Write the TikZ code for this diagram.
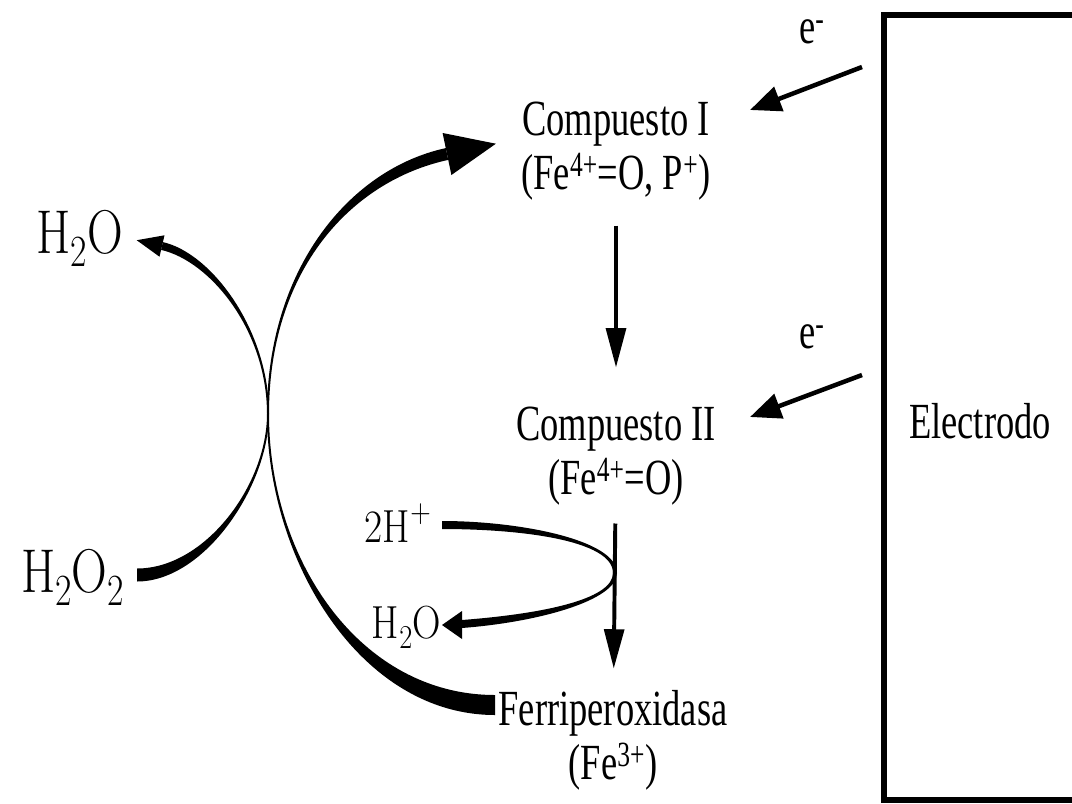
\documentclass[tikz,border=0pt]{standalone}
\usepackage{fontspec}
\usepackage{graphicx}
\newfontfamily\labfont[FakeStretch=0.72]{Liberation Serif}
\newcommand\lowr[1]{\raisebox{-0.22em}{\scalebox{0.72}{#1}}}
\newcommand\highr[1]{\raisebox{0.42em}{\scalebox{0.72}{#1}}}
\usetikzlibrary{positioning,arrows.meta}

\begin{document}
\begin{tikzpicture}[
  x=0.025cm, y=-0.025cm,
  cmp/.style={inner sep=0pt, align=center, font=\labfont\fontsize{36}{38.5}\selectfont},
  elab/.style={inner sep=0pt, anchor=base, font=\labfont\fontsize{36}{36}\selectfont},
  mol/.style={inner sep=0pt, anchor=base east, font=\fontsize{44}{44}\selectfont},
  smol/.style={mol, font=\fontsize{33}{33}\selectfont},
  flow/.style={-{Triangle[length=28pt,width=14pt]}, line width=2.8pt},
  efl/.style={-{Triangle[length=22pt,width=18pt]}, line width=3.2pt},
  taper/.style={fill=black, draw=none}
]
\useasboundingbox (0,0) rectangle (1072,803);

\node[cmp] (c1) at (616,151) {Compuesto I\\(Fe\textsuperscript{4+}=O, P\textsuperscript{+})};
\node[cmp] (c2) at (616,456) {Compuesto II\\(Fe\textsuperscript{4+}=O)};
\node[cmp] (fe) at (613,740) {Ferriperoxidasa\\(Fe\textsuperscript{3+})};
\node[elab] (e1) at (812,43) {e\textsuperscript{-}};
\node[elab] (e2) at (812,348) {e\textsuperscript{-}};
\node[cmp, anchor=base] (el) at (980,438) {Electrodo};
\node[mol] (h2o) at (123,253) {\scalebox{0.8}[1]{H\lowr{2}O}};
\node[mol] (h2o2) at (124,592) {\scalebox{0.8}[1]{H\lowr{2}O\lowr{2}}};
\node[smol] (hp) at (431,542) {\scalebox{0.85}[1]{2H\highr{+}}};
\node[smol] (h2ob) at (441,638) {\scalebox{0.85}[1]{H\lowr{2}O}};

\draw[line width=3.6pt] (884,15) rectangle (1110,800);

\coordinate (src1) at (862,67);
\coordinate (dst1) at (750,110);
\coordinate (src2) at (862,375);
\coordinate (dst2) at (750,417);
\draw[efl] (src1) -- (dst1);
\draw[efl] (src2) -- (dst2);

\draw[flow, shorten <=17.8pt, shorten >=27.7pt] (c1) -- (c2);
\draw[flow, shorten <=12.8pt, shorten >=15pt] (c2) -- (fe);

\fill[taper] (137,581.5) .. controls (205,581.5) and (269,485) .. (269,414)
  .. controls (269,330) and (211.6,253.1) .. (162.9,242.1) -- (161.1,249.9)
  .. controls (209.8,260.9) and (267,330) .. (267,414)
  .. controls (267,485) and (205,568.5) .. (137,568.5) -- cycle;
\fill[taper] (136.7,240.2) -- (164.5,235.3) -- (159.5,256.7) -- cycle;

\fill[taper] (495,715) .. controls (360,715) and (267,560) .. (267,414)
  .. controls (267,270) and (348.8,169.1) .. (445.8,148.1) -- (448.2,159.9)
  .. controls (351.2,180.9) and (269,270) .. (269,414)
  .. controls (269,560) and (360,695) .. (495,695) -- cycle;
\fill[taper] (495.9,143.7) -- (442.6,133) -- (451.4,175) -- cycle;

\fill[taper] (442,521) .. controls (520,521) and (617,540) .. (617,573)
  .. controls (617,600) and (540,622) .. (462,628) -- (462,620)
  .. controls (540,614) and (613,600) .. (613,573)
  .. controls (613,540) and (520,529) .. (442,529) -- cycle;
\fill[taper] (442,625) -- (462,611) -- (462,639) -- cycle;
\end{tikzpicture}
\end{document}
